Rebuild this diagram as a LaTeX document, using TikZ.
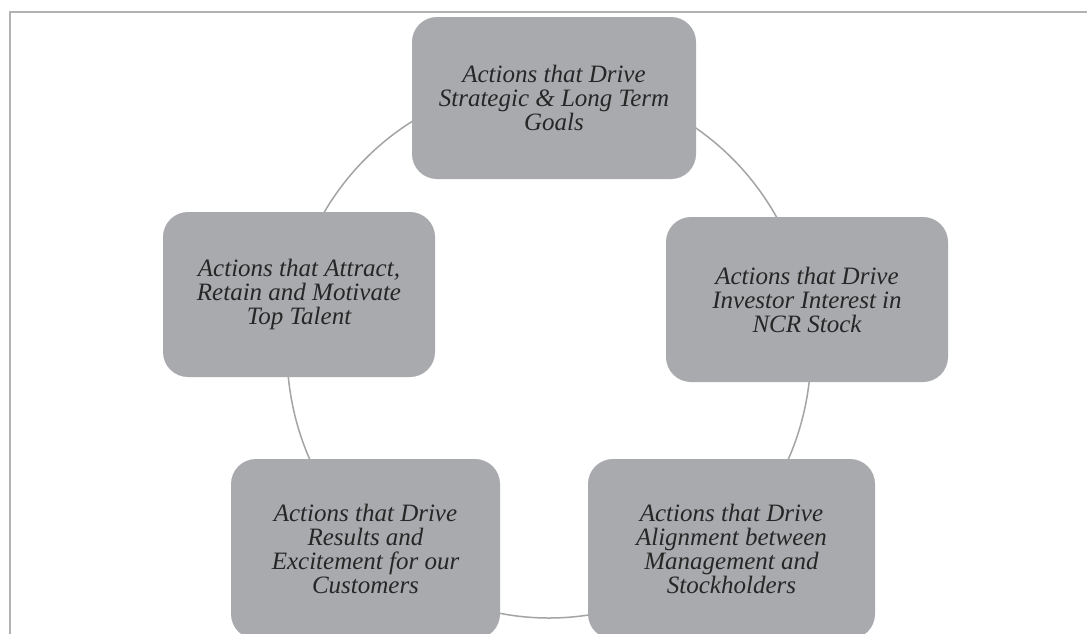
\documentclass[tikz,border=0pt]{standalone}
\usepackage{fontspec}
\setmainfont{Liberation Serif}
\definecolor{boxgrey}{HTML}{A9AAAD}
\definecolor{txt}{HTML}{262626}
\definecolor{ringc}{HTML}{A4A4A4}
\definecolor{framec}{HTML}{B2B2B2}
\begin{document}
\begin{tikzpicture}[x=1pt,y=-1pt,
  box/.style={draw=none, fill=boxgrey, rounded corners=25pt, text=txt,
    font=\fontsize{25}{24}\selectfont\itshape, align=center, inner sep=0pt, anchor=center},
  ring/.style={draw=ringc, line width=1.5pt},
  framel/.style={draw=framec, line width=2.5pt}
]
\useasboundingbox (0,0) rectangle (1087,633);
\clip (0,0) rectangle (1087,633);
\fill[white] (0,0) rectangle (1087,633);
% frame
\coordinate (fr) at (1090,12);
\coordinate (fc) at (10,12);
\coordinate (fb) at (10,640);
\draw[framel] (fr) -- (fc) -- (fb);
% ring
\draw[ring] (549,350) ellipse [x radius=262pt, y radius=268pt];
% boxes
\node[box, minimum width=284pt, minimum height=162pt] (top) at (554,98)
  {Actions that Drive\\Strategic \& Long Term\\Goals};
\node[box, minimum width=282pt, minimum height=165pt] (right) at (807,299.5)
  {Actions that Drive\\Investor Interest in\\NCR Stock};
\node[box, minimum width=287pt, minimum height=180pt] (bright) at (731.5,549)
  {Actions that Drive\\Alignment between\\Management and\\Stockholders};
\node[box, minimum width=269pt, minimum height=180pt] (bleft) at (365.5,549)
  {Actions that Drive\\Results and\\Excitement for our\\Customers};
\node[box, minimum width=272pt, minimum height=165pt] (left) at (299,294.5)
  {Actions that Attract,\\Retain and Motivate\\Top Talent};
\end{tikzpicture}
\end{document}
